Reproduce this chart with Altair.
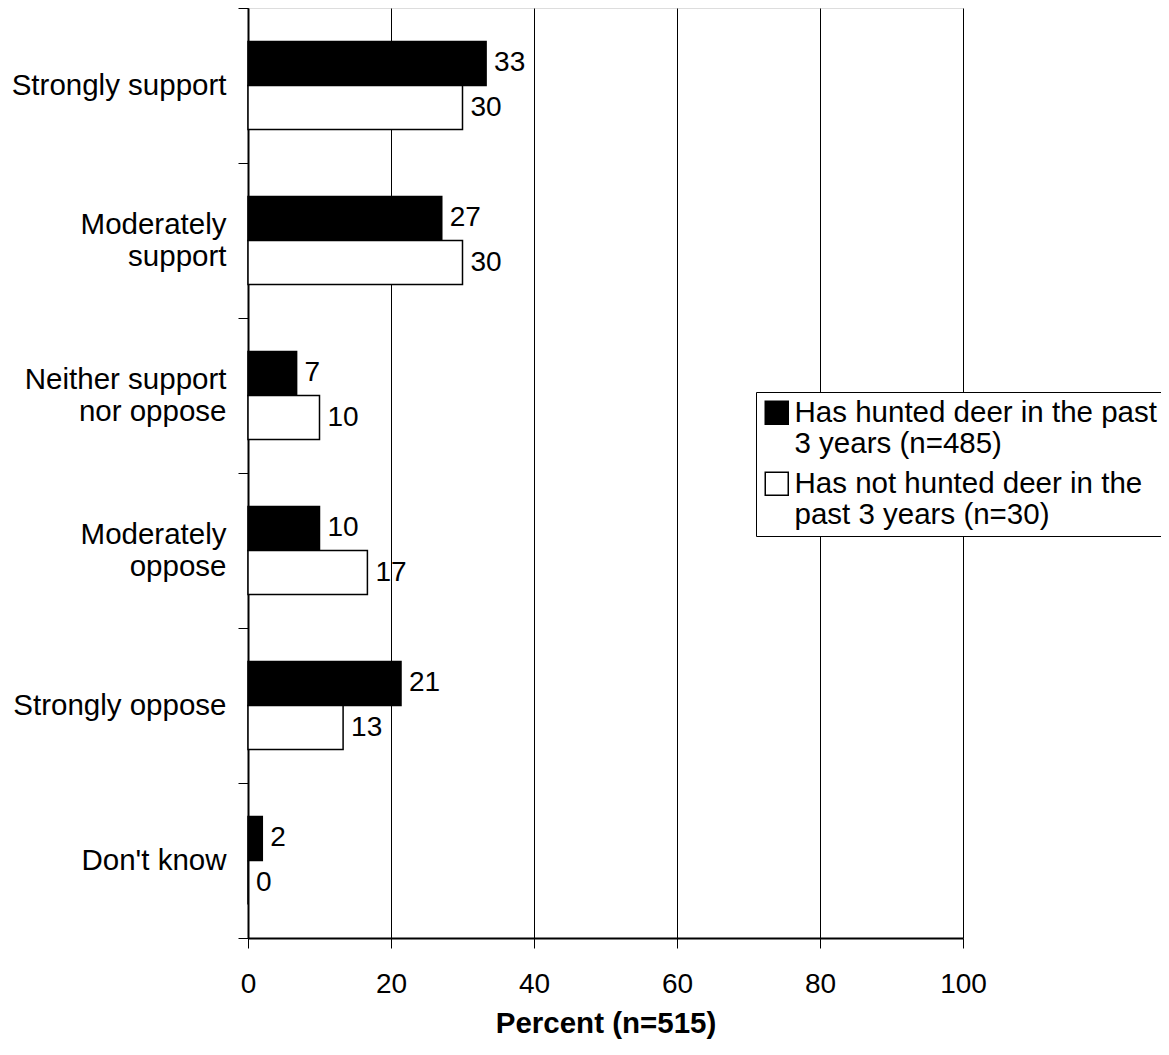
import json
import altair as alt
import pandas as pd

categories = [
    "Strongly support",
    "Moderately support",
    "Neither support nor oppose",
    "Moderately oppose",
    "Strongly oppose",
    "Don't know",
]
category_lines = [
    ["Strongly support"],
    ["Moderately", "support"],
    ["Neither support", "nor oppose"],
    ["Moderately", "oppose"],
    ["Strongly oppose"],
    ["Don't know"],
]
groups = [
    "Has hunted deer in the past 3 years (n=485)",
    "Has not hunted deer in the past 3 years (n=30)",
]
group_lines = [
    ["Has hunted deer in the past", "3 years (n=485)"],
    ["Has not hunted deer in the", "past 3 years (n=30)"],
]
hunted = [33.3, 27.1, 6.8, 10.0, 21.4, 2.0]
not_hunted = [30.0, 30.0, 10.0, 16.7, 13.3, 0.0]
x_ticks = [0, 20, 40, 60, 80, 100]
group_colors = ["black", "white"]

rows = []
for c, h, n in zip(categories, hunted, not_hunted):
    rows.append({"category": c, "group": groups[0], "value": h})
    rows.append({"category": c, "group": groups[1], "value": n})
df = pd.DataFrame(rows)

FONT = "Liberation Sans"
cat_map = json.dumps(dict(zip(categories, category_lines)))
grp_map = json.dumps(dict(zip(groups, group_lines)))
multi_line = json.dumps([c for c, l in zip(categories, category_lines) if len(l) > 1])

y_enc = alt.Y(
    "category:N",
    sort=categories,
    scale=alt.Scale(paddingInner=0, paddingOuter=0),
    axis=alt.Axis(
        title=None,
        tickBand="extent",
        tickSize=10,
        tickColor="black",
        tickWidth=1,
        domainColor="black",
        domainWidth=2,
        labelFont=FONT,
        labelFontSize=29.5,
        labelColor="black",
        labelLineHeight=32,
        labelPadding=12,
        labelLimit=400,
        labelOffset={
            "condition": {"test": f"indexof({multi_line}, datum.value) >= 0", "value": -16},
            "value": 0,
        },
        labelExpr=f"{cat_map}[datum.label] || datum.label",
        grid=False,
    ),
)
yoff_enc = alt.YOffset(
    "group:N",
    sort=groups,
    scale=alt.Scale(paddingInner=0, paddingOuter=0.76),
)
x_enc = alt.X(
    "value:Q",
    scale=alt.Scale(domain=[0, 100], nice=False),
    axis=alt.Axis(
        title="Percent (n=515)",
        values=x_ticks,
        tickSize=10,
        tickColor="black",
        domainColor="black",
        domainWidth=2,
        grid=True,
        gridColor="black",
        gridWidth=1,
        gridOpacity=1,
        labelFont=FONT,
        labelFontSize=28,
        labelColor="black",
        labelPadding=22,
        labelFlush=False,
        titleFont=FONT,
        titleFontSize=29.5,
        titleFontWeight="bold",
        titleColor="black",
        titleBaseline="alphabetic",
        titleY=94,
    ),
)

bars = alt.Chart(df).mark_bar(stroke="black", strokeWidth=1.5).encode(
    y=y_enc,
    yOffset=yoff_enc,
    x=x_enc,
    fill=alt.Fill(
        "group:N",
        sort=groups,
        scale=alt.Scale(domain=groups, range=group_colors),
        legend=alt.Legend(
            title=None,
            orient="none",
            legendX=508,
            legendY=384,
            direction="vertical",
            strokeColor="black",
            fillColor="white",
            padding=6,
            cornerRadius=0,
            symbolType="square",
            symbolSize=529,
            symbolStrokeColor="black",
            symbolStrokeWidth=1.5,
            symbolOpacity=1,
            labelFont=FONT,
            labelFontSize=29.5,
            labelColor="black",
            labelLimit=500,
            labelOffset=3,
            rowPadding=9,
            labelExpr=f"{grp_map}[datum.label] || datum.label",
        ),
    ),
)

labels = alt.Chart(df).mark_text(
    align="left", baseline="middle", dx=8, font=FONT, fontSize=28, color="black"
).encode(
    y=alt.Y("category:N", sort=categories),
    yOffset=alt.YOffset("group:N", sort=groups),
    x=alt.X("value:Q"),
    text=alt.Text("value:Q", format=".0f"),
)

chart = (
    alt.layer(bars, labels)
    .properties(
        width=715,
        height=930,
        autosize=alt.AutoSizeParams(type="none"),
        padding={"left": 240, "top": 0, "right": 198, "bottom": 102},
    )
    .configure_view(stroke="black", strokeWidth=2)
    .configure(background="white")
)

chart.save("out.html", embed_options={"renderer": "svg", "actions": False})
